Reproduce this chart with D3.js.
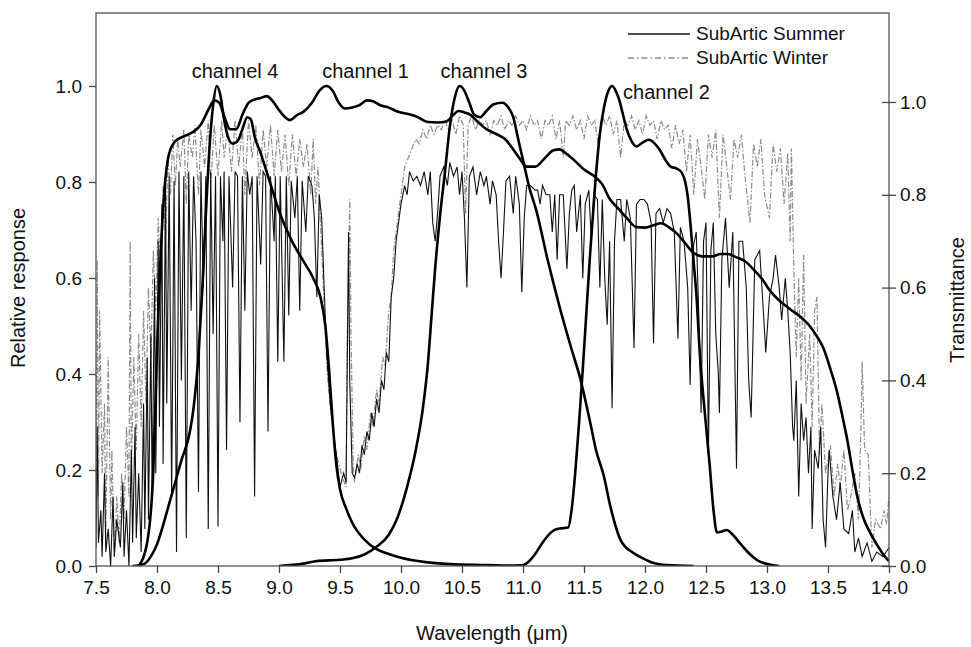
<!DOCTYPE html>
<meta charset="utf-8">
<style>
body { margin: 0; background: #fff; }
text { font-family: "Liberation Sans", Arial, Helvetica, sans-serif; fill: #111; }
.tick text { font-size: 19px; }
.domain, .tick line { stroke: #444; stroke-width: 1.3px; }
</style>
<svg width="971" height="647"></svg>
<script src="https://cdn.jsdelivr.net/npm/d3@7"></script>
<script>
// relative response curves, [wavelength (um), response]
var channel1 = [[7.85,0],[7.92,0.05],[7.97,0.2],[8.0,0.45],[8.03,0.65],[8.06,0.78],[8.1,0.86],[8.15,0.885],[8.2,0.893],[8.3,0.905],
  [8.36,0.92],[8.42,0.95],[8.47,0.97],[8.51,0.965],[8.56,0.93],[8.6,0.91],[8.65,0.91],[8.7,0.94],[8.75,0.965],[8.8,0.972],
  [8.85,0.975],[8.9,0.979],[8.95,0.968],[9.0,0.95],[9.05,0.935],[9.09,0.929],[9.15,0.94],[9.2,0.946],[9.27,0.965],[9.33,0.99],
  [9.39,1.0],[9.44,0.99],[9.49,0.965],[9.54,0.953],[9.6,0.955],[9.66,0.96],[9.72,0.97],[9.77,0.968],[9.83,0.96],[9.9,0.955],
  [9.97,0.947],[10.05,0.942],[10.13,0.936],[10.22,0.925],[10.3,0.924],[10.37,0.926],[10.43,0.94],[10.47,0.948],[10.52,0.945],
  [10.57,0.94],[10.63,0.925],[10.7,0.91],[10.78,0.9],[10.85,0.89],[10.92,0.868],[10.97,0.85],[11.03,0.832],[11.1,0.832],
  [11.18,0.85],[11.25,0.866],[11.3,0.868],[11.36,0.858],[11.43,0.843],[11.5,0.826],[11.58,0.813],[11.65,0.795],[11.71,0.765],
  [11.78,0.745],[11.85,0.725],[11.93,0.706],[12.0,0.705],[12.07,0.71],[12.13,0.714],[12.2,0.705],[12.26,0.693],[12.33,0.672],
  [12.4,0.652],[12.47,0.645],[12.55,0.645],[12.62,0.65],[12.68,0.65],[12.75,0.643],[12.82,0.635],[12.9,0.615],[12.96,0.598],
  [13.02,0.575],[13.1,0.553],[13.19,0.535],[13.27,0.52],[13.35,0.5],[13.41,0.478],[13.46,0.455],[13.52,0.41],[13.57,0.367],
  [13.62,0.31],[13.66,0.26],[13.7,0.2],[13.74,0.145],[13.79,0.1],[13.84,0.072],[13.9,0.045],[13.95,0.025],[14.0,0.01]];

var channel2 = [[10.9,0],[11.0,0.002],[11.05,0.01],[11.1,0.025],[11.15,0.045],[11.2,0.062],[11.25,0.074],[11.3,0.078],
  [11.37,0.08],[11.4,0.12],[11.43,0.2],[11.46,0.3],[11.49,0.41],[11.52,0.53],[11.55,0.65],[11.59,0.79],[11.63,0.9],[11.66,0.95],
  [11.7,0.99],[11.73,1.0],[11.76,0.99],[11.79,0.97],[11.82,0.94],[11.85,0.91],[11.89,0.885],[11.93,0.874],[11.98,0.882],
  [12.03,0.888],[12.08,0.88],[12.12,0.867],[12.17,0.845],[12.21,0.832],[12.26,0.828],[12.3,0.82],[12.33,0.8],[12.35,0.77],
  [12.37,0.72],[12.4,0.63],[12.42,0.57],[12.45,0.44],[12.49,0.32],[12.53,0.21],[12.56,0.12],[12.59,0.07],[12.63,0.072],
  [12.67,0.075],[12.72,0.065],[12.78,0.047],[12.85,0.027],[12.92,0.012],[13.0,0.004],[13.1,0]];

var channel3 = [[9.0,0],[9.2,0.005],[9.3,0.01],[9.5,0.013],[9.6,0.016],[9.7,0.024],[9.8,0.04],[9.9,0.065],[9.97,0.1],
  [10.05,0.165],[10.12,0.24],[10.18,0.33],[10.22,0.42],[10.25,0.52],[10.28,0.62],[10.32,0.73],[10.36,0.82],[10.4,0.915],
  [10.44,0.975],[10.48,1.0],[10.52,0.99],[10.56,0.965],[10.6,0.94],[10.65,0.935],[10.7,0.948],[10.76,0.962],[10.83,0.965],
  [10.88,0.955],[10.92,0.935],[10.96,0.89],[11.0,0.846],[11.05,0.79],[11.11,0.74],[11.2,0.64],[11.3,0.54],[11.4,0.45],
  [11.47,0.39],[11.55,0.3],[11.6,0.24],[11.66,0.19],[11.72,0.12],[11.8,0.054],[11.9,0.028],[11.96,0.019],[12.05,0.008],
  [12.18,0.002],[12.4,0]];

var channel4 = [[7.8,0],[7.9,0.005],[7.95,0.02],[8.0,0.045],[8.05,0.085],[8.1,0.13],[8.15,0.175],[8.2,0.22],[8.27,0.28],
  [8.3,0.33],[8.34,0.44],[8.37,0.57],[8.4,0.73],[8.43,0.87],[8.46,0.96],[8.49,1.0],[8.52,0.98],[8.55,0.93],[8.58,0.895],
  [8.62,0.88],[8.66,0.885],[8.7,0.91],[8.74,0.935],[8.77,0.93],[8.8,0.895],[8.85,0.86],[8.9,0.82],[8.95,0.78],[9.0,0.74],
  [9.1,0.68],[9.2,0.635],[9.28,0.6],[9.34,0.56],[9.38,0.5],[9.41,0.41],[9.44,0.3],[9.47,0.21],[9.5,0.16],[9.55,0.12],
  [9.6,0.09],[9.7,0.055],[9.8,0.035],[9.9,0.025],[10.0,0.017],[10.2,0.008],[10.4,0.004],[10.7,0.002],[11.0,0]];

// transmittance spectra, [wavelength (um), transmittance]
var summer = [[7.50,0.04],[7.51,0.30],[7.52,0.05],[7.54,0.12],[7.55,0.02],[7.57,0.20],[7.58,0.03],[7.60,0.08],[7.62,0.00],
  [7.64,0.15],[7.65,0.02],[7.67,0.10],[7.70,0.04],[7.72,0.18],[7.73,0.02],[7.75,0.12],[7.77,0.00],[7.79,0.25],[7.80,0.05],
  [7.82,0.30],[7.83,0.06],[7.85,0.20],[7.87,0.03],[7.89,0.35],[7.90,0.08],[7.92,0.45],[7.93,0.10],[7.95,0.50],[7.96,0.15],
  [7.98,0.62],[7.99,0.20],[8.01,0.70],[8.02,0.30],[8.04,0.78],[8.05,0.22],[8.07,0.82],[8.08,0.35],[8.10,0.84],[8.12,0.15],
  [8.14,0.83],[8.16,0.03],[8.18,0.85],[8.20,0.40],[8.22,0.84],[8.24,0.06],[8.26,0.85],[8.28,0.55],[8.30,0.84],[8.32,0.70],
  [8.34,0.16],[8.36,0.85],[8.38,0.60],[8.40,0.84],[8.42,0.08],[8.44,0.85],[8.46,0.50],[8.48,0.84],[8.50,0.085],[8.52,0.84],
  [8.54,0.70],[8.55,0.85],[8.57,0.25],[8.59,0.84],[8.62,0.60],[8.64,0.85],[8.66,0.84],[8.68,0.31],[8.70,0.84],[8.72,0.55],
  [8.74,0.85],[8.76,0.80],[8.78,0.84],[8.80,0.15],[8.82,0.84],[8.85,0.65],[8.87,0.85],[8.89,0.84],[8.91,0.29],[8.93,0.84],
  [8.96,0.70],[8.97,0.84],[8.99,0.44],[9.01,0.84],[9.04,0.44],[9.06,0.84],[9.08,0.54],[9.10,0.83],[9.13,0.75],[9.15,0.84],
  [9.17,0.55],[9.19,0.83],[9.22,0.72],[9.24,0.84],[9.27,0.82],[9.29,0.75],[9.31,0.58],[9.33,0.80],[9.35,0.75],[9.37,0.60],
  [9.39,0.46],[9.42,0.35],[9.45,0.28],[9.47,0.24],[9.50,0.17],[9.53,0.20],[9.55,0.18],[9.56,0.45],[9.57,0.72],[9.58,0.40],
  [9.60,0.20],[9.62,0.19],[9.64,0.22],[9.66,0.20],[9.68,0.26],[9.70,0.24],[9.72,0.29],[9.74,0.27],[9.76,0.33],[9.78,0.30],
  [9.80,0.36],[9.82,0.33],[9.84,0.40],[9.86,0.38],[9.88,0.46],[9.90,0.44],[9.92,0.58],[9.94,0.62],[9.96,0.70],[9.98,0.74],
  [10.00,0.78],[10.03,0.82],[10.05,0.80],[10.07,0.85],[10.10,0.83],[10.13,0.84],[10.16,0.82],[10.19,0.85],[10.22,0.80],
  [10.24,0.85],[10.26,0.74],[10.28,0.70],[10.30,0.76],[10.32,0.84],[10.35,0.86],[10.38,0.82],[10.40,0.87],[10.43,0.84],
  [10.46,0.86],[10.48,0.80],[10.50,0.85],[10.52,0.75],[10.54,0.60],[10.56,0.84],[10.59,0.86],[10.62,0.80],[10.65,0.85],
  [10.68,0.82],[10.70,0.84],[10.73,0.78],[10.75,0.83],[10.78,0.80],[10.80,0.70],[10.82,0.62],[10.84,0.72],[10.86,0.83],
  [10.89,0.84],[10.92,0.76],[10.94,0.84],[10.97,0.78],[10.99,0.59],[11.01,0.75],[11.03,0.82],[11.06,0.82],[11.10,0.81],
  [11.12,0.81],[11.14,0.78],[11.16,0.82],[11.19,0.80],[11.22,0.80],[11.24,0.72],[11.26,0.80],[11.28,0.66],[11.30,0.80],
  [11.33,0.80],[11.36,0.64],[11.38,0.76],[11.40,0.81],[11.42,0.82],[11.44,0.72],[11.47,0.80],[11.49,0.62],[11.51,0.78],
  [11.54,0.81],[11.56,0.70],[11.58,0.80],[11.61,0.79],[11.63,0.60],[11.65,0.79],[11.67,0.62],[11.69,0.52],[11.71,0.70],
  [11.73,0.34],[11.75,0.70],[11.77,0.79],[11.80,0.79],[11.83,0.70],[11.85,0.79],[11.88,0.75],[11.91,0.47],[11.93,0.78],
  [11.96,0.79],[11.99,0.79],[12.02,0.78],[12.05,0.74],[12.07,0.48],[12.09,0.76],[12.12,0.77],[12.15,0.74],[12.18,0.77],
  [12.21,0.76],[12.24,0.72],[12.27,0.49],[12.29,0.73],[12.32,0.70],[12.35,0.60],[12.37,0.39],[12.39,0.68],[12.42,0.72],
  [12.44,0.55],[12.46,0.33],[12.48,0.70],[12.50,0.74],[12.52,0.24],[12.54,0.68],[12.56,0.74],[12.58,0.50],[12.60,0.42],
  [12.61,0.33],[12.63,0.66],[12.66,0.75],[12.69,0.60],[12.72,0.72],[12.75,0.21],[12.77,0.70],[12.80,0.70],[12.83,0.60],
  [12.85,0.40],[12.87,0.32],[12.90,0.66],[12.94,0.68],[12.97,0.55],[12.99,0.46],[13.02,0.58],[13.05,0.62],[13.07,0.67],
  [13.10,0.60],[13.12,0.53],[13.15,0.62],[13.17,0.55],[13.19,0.46],[13.21,0.30],[13.22,0.27],[13.24,0.40],[13.26,0.15],
  [13.28,0.35],[13.30,0.27],[13.32,0.32],[13.34,0.20],[13.36,0.30],[13.37,0.08],[13.39,0.25],[13.42,0.21],[13.44,0.30],
  [13.46,0.10],[13.48,0.04],[13.50,0.20],[13.51,0.25],[13.54,0.15],[13.57,0.10],[13.60,0.18],[13.63,0.08],[13.67,0.07],
  [13.70,0.12],[13.72,0.03],[13.75,0.06],[13.78,0.02],[13.82,0.05],[13.86,0.01],[13.90,0.03],[13.95,0.02],[14.00,0.04]];

var winter = [[7.50,0.10],[7.51,0.66],[7.52,0.15],[7.53,0.55],[7.55,0.20],[7.57,0.35],[7.58,0.05],[7.60,0.45],[7.62,0.10],
  [7.63,0.25],[7.65,0.02],[7.67,0.15],[7.69,0.05],[7.71,0.20],[7.73,0.10],[7.75,0.30],[7.77,0.15],[7.78,0.70],[7.79,0.20],
  [7.81,0.45],[7.83,0.25],[7.85,0.50],[7.87,0.30],[7.89,0.55],[7.91,0.35],[7.93,0.60],[7.95,0.45],[7.97,0.68],[7.99,0.55],
  [8.01,0.75],[8.03,0.62],[8.05,0.82],[8.07,0.70],[8.09,0.88],[8.11,0.80],[8.13,0.93],[8.15,0.82],[8.17,0.92],[8.19,0.86],
  [8.22,0.94],[8.24,0.78],[8.26,0.93],[8.29,0.88],[8.31,0.95],[8.34,0.80],[8.36,0.94],[8.39,0.86],[8.42,0.96],[8.44,0.82],
  [8.47,0.95],[8.50,0.84],[8.53,0.96],[8.55,0.88],[8.58,0.95],[8.61,0.85],[8.64,0.96],[8.67,0.86],[8.70,0.95],[8.72,0.80],
  [8.75,0.96],[8.78,0.88],[8.81,0.95],[8.84,0.82],[8.87,0.94],[8.90,0.86],[8.93,0.95],[8.96,0.84],[8.99,0.94],[9.02,0.85],
  [9.05,0.93],[9.08,0.82],[9.11,0.93],[9.14,0.84],[9.17,0.92],[9.20,0.86],[9.23,0.91],[9.26,0.80],[9.28,0.92],[9.30,0.78],
  [9.32,0.86],[9.34,0.74],[9.36,0.62],[9.38,0.50],[9.40,0.40],[9.43,0.32],[9.46,0.25],[9.49,0.22],[9.52,0.19],[9.55,0.17],
  [9.56,0.50],[9.58,0.79],[9.59,0.50],[9.61,0.20],[9.62,0.18],[9.65,0.24],[9.67,0.21],[9.70,0.28],[9.72,0.25],[9.75,0.33],
  [9.77,0.30],[9.80,0.38],[9.82,0.35],[9.85,0.45],[9.87,0.43],[9.90,0.55],[9.92,0.58],[9.94,0.68],[9.96,0.72],[9.98,0.76],
  [10.00,0.80],[10.03,0.86],[10.06,0.88],[10.09,0.90],[10.12,0.92],[10.15,0.91],[10.18,0.94],[10.21,0.92],[10.24,0.95],
  [10.27,0.93],[10.30,0.95],[10.33,0.94],[10.36,0.96],[10.39,0.94],[10.42,0.96],[10.45,0.93],[10.48,0.97],[10.51,0.95],
  [10.53,0.76],[10.55,0.95],[10.58,0.97],[10.61,0.94],[10.64,0.96],[10.67,0.95],[10.70,0.96],[10.73,0.93],[10.76,0.96],
  [10.79,0.95],[10.82,0.97],[10.85,0.94],[10.88,0.96],[10.91,0.95],[10.94,0.97],[10.97,0.95],[11.00,0.96],[11.03,0.94],
  [11.06,0.97],[11.09,0.95],[11.12,0.96],[11.15,0.92],[11.18,0.96],[11.21,0.95],[11.24,0.97],[11.27,0.92],[11.30,0.96],
  [11.33,0.88],[11.35,0.96],[11.38,0.95],[11.41,0.97],[11.44,0.94],[11.47,0.96],[11.50,0.92],[11.53,0.97],[11.56,0.95],
  [11.59,0.96],[11.62,0.90],[11.65,0.97],[11.68,0.95],[11.71,0.97],[11.74,0.93],[11.77,0.96],[11.80,0.88],[11.83,0.96],
  [11.86,0.95],[11.89,0.97],[11.92,0.94],[11.95,0.96],[11.98,0.93],[12.01,0.97],[12.04,0.95],[12.07,0.96],[12.10,0.92],
  [12.13,0.96],[12.16,0.94],[12.19,0.95],[12.22,0.90],[12.25,0.95],[12.28,0.91],[12.31,0.94],[12.34,0.85],[12.37,0.93],
  [12.40,0.80],[12.43,0.92],[12.46,0.86],[12.49,0.79],[12.52,0.93],[12.55,0.88],[12.58,0.94],[12.61,0.75],[12.64,0.93],
  [12.67,0.86],[12.70,0.79],[12.73,0.92],[12.76,0.88],[12.79,0.93],[12.82,0.84],[12.86,0.74],[12.89,0.91],[12.92,0.86],
  [12.95,0.92],[12.98,0.80],[13.02,0.75],[13.05,0.91],[13.08,0.85],[13.11,0.90],[13.14,0.78],[13.17,0.89],[13.19,0.70],
  [13.20,0.90],[13.22,0.64],[13.24,0.45],[13.26,0.62],[13.28,0.40],[13.30,0.67],[13.32,0.35],[13.35,0.50],[13.37,0.30],
  [13.39,0.55],[13.41,0.58],[13.43,0.24],[13.45,0.35],[13.48,0.20],[13.52,0.26],[13.55,0.15],[13.58,0.22],[13.60,0.17],
  [13.63,0.25],[13.66,0.12],[13.68,0.14],[13.72,0.20],[13.75,0.10],[13.77,0.30],[13.78,0.44],[13.80,0.25],[13.83,0.24],
  [13.85,0.10],[13.86,0.04],[13.89,0.10],[13.93,0.08],[13.96,0.12],[13.98,0.09],[14.00,0.15]];

var xTicks = [7.5, 8.0, 8.5, 9.0, 9.5, 10.0, 10.5, 11.0, 11.5, 12.0, 12.5, 13.0, 13.5, 14.0];
var yTicks = [0, 0.2, 0.4, 0.6, 0.8, 1.0];
// label text, wavelength where it sits
var channelLabels = [["channel 4", 8.64], ["channel 1", 9.71], ["channel 3", 10.68], ["channel 2", 11.82]];
var legendNames = ["SubArtic Summer", "SubArtic Winter"];

var svg = d3.select("svg"),
    pl = 96, pr = 889, pt = 13, pb = 566;

var x = d3.scaleLinear().domain([7.5, 14]).range([pl, pr]);
// left axis: 1.0 sits at y=86, right axis: 1.0 sits at y=102
var y = d3.scaleLinear().domain([0, 1]).range([pb, 86]);
var yT = d3.scaleLinear().domain([0, 1]).range([pb, 102]);

svg.append("clipPath").attr("id", "plot")
  .append("rect").attr("x", pl).attr("y", pt).attr("width", pr - pl).attr("height", pb - pt);

var specLine = d3.line().x(function(d) { return x(d[0]); }).y(function(d) { return yT(d[1]); });
var respLine = d3.line().curve(d3.curveMonotoneX)
    .x(function(d) { return x(d[0]); }).y(function(d) { return y(d[1]); });

var g = svg.append("g").attr("clip-path", "url(#plot)");

g.append("path").datum(winter)
    .attr("d", specLine).attr("fill", "none")
    .attr("stroke", "#8c8c8c").attr("stroke-width", 1.2).attr("stroke-dasharray", "6,2,1.5,2");

g.append("path").datum(summer)
    .attr("d", specLine).attr("fill", "none")
    .attr("stroke", "#111").attr("stroke-width", 1.1);

[channel1, channel2, channel3, channel4].forEach(function(c) {
  g.append("path").datum(c)
      .attr("d", respLine).attr("fill", "none")
      .attr("stroke", "#000").attr("stroke-width", 2.6).attr("stroke-linejoin", "round");
});

// frame
svg.append("rect")
    .attr("x", pl).attr("y", pt).attr("width", pr - pl).attr("height", pb - pt)
    .attr("fill", "none").attr("stroke", "#555").attr("stroke-width", 1.3);

// axes
svg.append("g").attr("transform", "translate(0," + pb + ")")
    .call(d3.axisBottom(x).tickValues(xTicks).tickFormat(d3.format(".1f")).tickSize(7).tickSizeOuter(0).tickPadding(8));

svg.append("g").attr("transform", "translate(" + pl + ",0)")
    .call(d3.axisLeft(y).tickValues(yTicks).tickFormat(d3.format(".1f")).tickSize(7).tickSizeOuter(0).tickPadding(7));

var ra = svg.append("g").attr("transform", "translate(" + pr + ",0)")
    .call(d3.axisRight(yT).tickValues(yTicks).tickFormat(d3.format(".1f")).tickSize(7).tickSizeOuter(0).tickPadding(4));
ra.selectAll(".tick line").attr("x1", -7);
svg.selectAll(".domain").remove();

// axis titles
svg.append("text").attr("x", 492).attr("y", 640).attr("text-anchor", "middle")
    .style("font-size", "20px").text("Wavelength (\u03bcm)");
svg.append("text").attr("transform", "translate(25,288) rotate(-90)").attr("text-anchor", "middle")
    .style("font-size", "20px").text("Relative response");
svg.append("text").attr("transform", "translate(964,300) rotate(-90)").attr("text-anchor", "middle")
    .style("font-size", "20px").text("Transmittance");

// channel labels
svg.selectAll(".clab").data(channelLabels).enter().append("text")
    .attr("class", "clab")
    .attr("x", function(d) { return x(d[1]); })
    .attr("y", function(d, i) { return i === 3 ? 99 : 78; })
    .attr("text-anchor", function(d, i) { return i === 3 ? "start" : "middle"; })
    .style("font-size", "20px")
    .text(function(d) { return d[0]; });

// legend
var leg = svg.append("g");
legendNames.forEach(function(name, i) {
  var ly = 34 + i * 24;
  leg.append("line").attr("x1", 628).attr("x2", 690).attr("y1", ly).attr("y2", ly)
      .attr("stroke", i ? "#8c8c8c" : "#111").attr("stroke-width", 1.4)
      .attr("stroke-dasharray", i ? "6,3,1.5,3" : null);
  leg.append("text").attr("x", 696).attr("y", ly + 6).style("font-size", "19px").text(name);
});
</script>
